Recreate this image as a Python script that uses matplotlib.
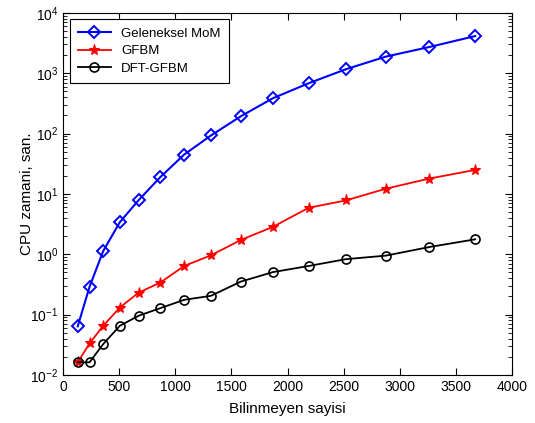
import numpy as np
import matplotlib
matplotlib.use('Agg')
import matplotlib.pyplot as plt

plt.rcParams['font.family'] = ['Liberation Sans', 'DejaVu Sans']

# unknowns (x) and CPU times (s)
n_unknowns = [130, 235, 357, 505, 673, 866, 1079, 1317, 1584, 1870, 2188, 2519, 2875, 3264, 3672]
t_mom = [0.064, 0.288, 1.13, 3.4, 7.9, 19, 45, 93, 194, 386, 683, 1164, 1885, 2723, 4131]
t_gfbm = [0.0162, 0.0333, 0.0653, 0.131, 0.232, 0.34, 0.641, 0.96, 1.73, 2.85, 5.9, 7.8, 12.2, 18, 25]
t_dft = [0.0162, 0.0162, 0.0325, 0.0653, 0.096, 0.128, 0.176, 0.205, 0.353, 0.507, 0.64, 0.83, 0.95, 1.32, 1.77]

fig = plt.figure(figsize=(5.35, 4.23), dpi=100)
ax = fig.add_axes([0.118, 0.1135, 0.839, 0.856])

ax.semilogy(n_unknowns, t_mom, '-', color='blue', lw=1.5, marker='D', ms=6,
            mfc='none', mec='blue', mew=1.4, label='Geleneksel MoM')
ax.semilogy(n_unknowns, t_gfbm, '-', color='red', lw=1.3, marker='*', ms=8,
            mfc='red', mec='red', mew=0.8, label='GFBM')
ax.semilogy(n_unknowns, t_dft, '-', color='black', lw=1.3, marker='o', ms=6.5,
            mfc='none', mec='black', mew=1.2, label='DFT-GFBM')

ax.set_xlim(0, 4000)
ax.set_ylim(1e-2, 1e4)
ax.set_xticks(np.arange(0, 4001, 500))
ax.tick_params(which='both', direction='in', top=True, right=True, labelsize=10)
ax.tick_params(which='major', length=5)
ax.tick_params(which='minor', length=3)
ax.yaxis.set_minor_locator(matplotlib.ticker.LogLocator(base=10, subs=np.arange(2, 10), numticks=20))

ax.set_xlabel('Bilinmeyen sayisi', fontsize=11, labelpad=6)
ax.set_ylabel('CPU zamani, san.', fontsize=11, labelpad=-3)

leg = ax.legend(loc='upper left', fontsize=9.5, fancybox=False, framealpha=1,
                edgecolor='black', borderaxespad=0.5, handlelength=2.5,
                labelspacing=0.4, borderpad=0.6)
leg.get_frame().set_linewidth(0.8)

fig.savefig('out.png', dpi=100)
